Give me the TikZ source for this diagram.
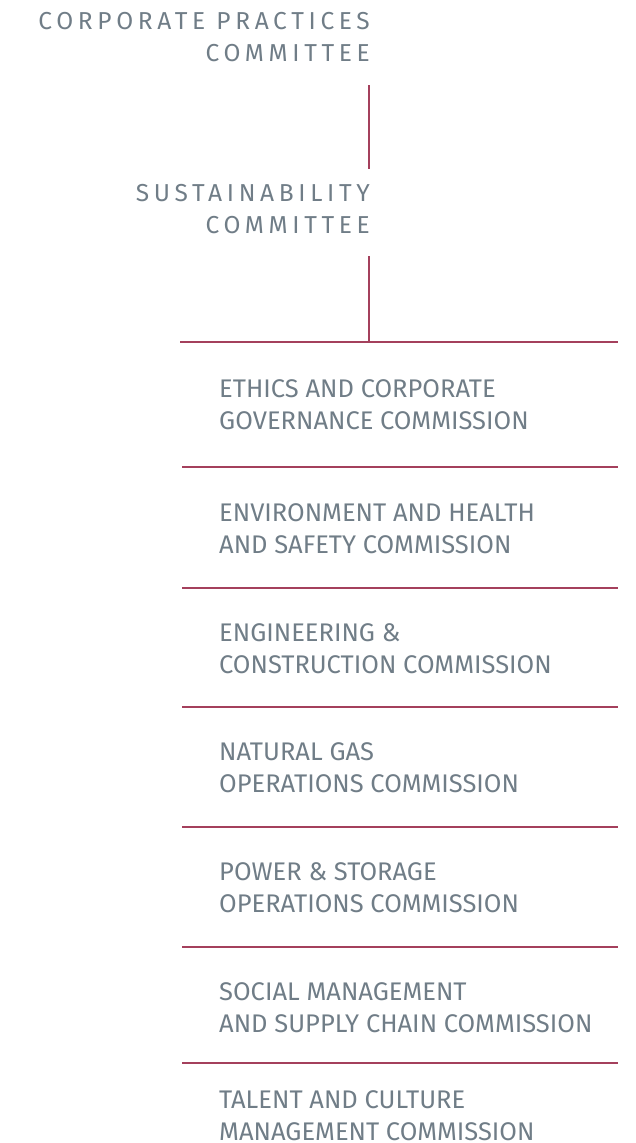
\documentclass[tikz,border=0pt]{standalone}
\usepackage{fontspec}
\setmainfont{Fira Sans}
\newfontfamily\spacedfont[LetterSpace=19]{Fira Sans}
\usepackage{xcolor}
\usepackage{tikz}
\usetikzlibrary{positioning,calc}

\definecolor{rulered}{HTML}{A4405C}
\definecolor{textgray}{HTML}{707D87}

\tikzset{
  committee/.style={anchor=base east, align=right, inner sep=0pt, text=textgray,
    font=\spacedfont\fontsize{24.5}{32}\selectfont},
  commission/.style={anchor=base west, align=left, inner sep=0pt, text=textgray,
    font=\fontsize{25.5}{32}\selectfont},
  rule/.style={draw=rulered, line width=1.6pt}
}

\begin{document}
\begin{tikzpicture}[x=1pt,y=-1pt]
    \useasboundingbox (0,0) rectangle (636,1143);

    % Committees (anchored on the last line)
    \node[committee] (corp) at (370,61) {CORPORATE PRACTICES\\COMMITTEE};
    \node[committee] (sust) at (370,233) {SUSTAINABILITY\\COMMITTEE};
    \draw[rule] ([xshift=-1pt,yshift=-24pt]corp.base east) -- ([xshift=-1pt,yshift=64pt]sust.base east);

    % Bus line
    \coordinate (busL) at (180,342);
    \coordinate (busR) at (618,342);
    \coordinate (busT) at (369,342);
    \draw[rule] ([xshift=-1pt,yshift=-23pt]sust.base east) -- (busT);
    \draw[rule] (busL) -- (busR);

    % Commissions
    \node[commission] (ethics) at (219,429) {ETHICS AND CORPORATE\\GOVERNANCE COMMISSION};
    \draw[rule] (182,467) -- (618,467);
    \node[commission] (envhs) at (219,553) {ENVIRONMENT AND HEALTH\\AND SAFETY COMMISSION};
    \draw[rule] (182,588) -- (618,588);
    \node[commission] (engcon) at (219,673) {ENGINEERING \&\\CONSTRUCTION COMMISSION};
    \draw[rule] (182,707) -- (618,707);
    \node[commission] (natgas) at (219,792) {NATURAL GAS\\OPERATIONS COMMISSION};
    \draw[rule] (182,827) -- (618,827);
    \node[commission] (power) at (219,912) {POWER \& STORAGE\\OPERATIONS COMMISSION};
    \draw[rule] (182,947) -- (618,947);
    \node[commission] (social) at (219,1032) {SOCIAL MANAGEMENT\\AND SUPPLY CHAIN COMMISSION};
    \draw[rule] (182,1063) -- (618,1063);
    \node[commission] (talent) at (219,1140) {TALENT AND CULTURE\\MANAGEMENT COMMISSION};
\end{tikzpicture}
\end{document}
